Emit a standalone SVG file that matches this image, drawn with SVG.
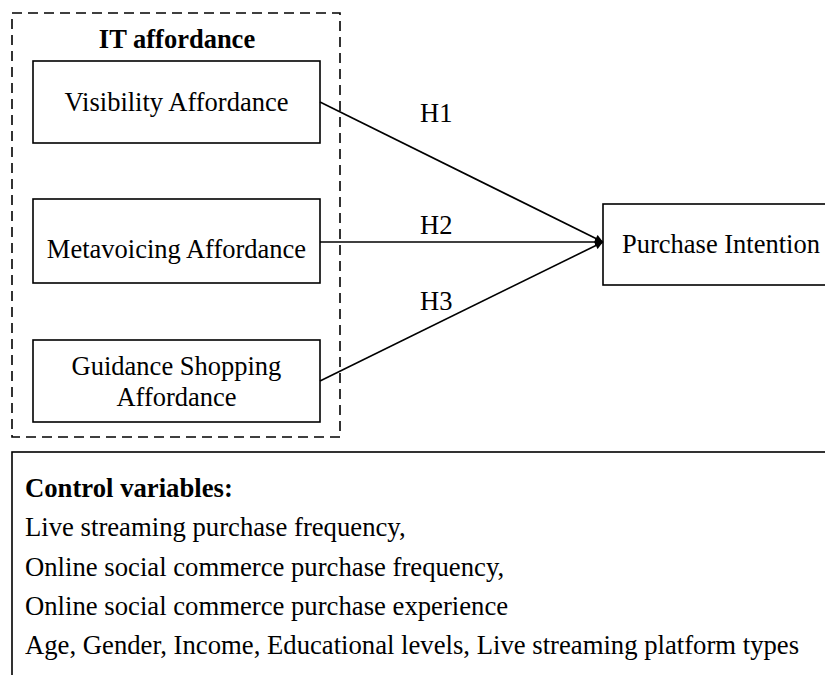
<svg xmlns="http://www.w3.org/2000/svg" width="825" height="675" viewBox="0 0 825 675">
<defs>
<style>
text{font-family:"Liberation Serif","Times New Roman",serif;font-size:26.5px;fill:#000}
.b{font-weight:bold}
.c{font-size:26.7px}
.box{fill:#fff;stroke:#000;stroke-width:1.6}
.dash{fill:none;stroke:#000;stroke-width:1.6;stroke-dasharray:10 6}
.conn{stroke:#000;stroke-width:1.6;fill:none}
</style>
<marker id="arr" viewBox="0 0 10 10" refX="10" refY="5" markerWidth="9" markerHeight="8" markerUnits="userSpaceOnUse" orient="auto">
<path d="M0,0 L10,5 L0,10 z" fill="#000"/>
</marker>
</defs>
<rect width="825" height="675" fill="#fff"/>
<g id="it-affordance">
<rect class="dash" x="12" y="13" width="328" height="424"/>
<text class="b" x="177" y="48" text-anchor="middle">IT affordance</text>
</g>
<g id="visibility">
<rect class="box" x="33" y="61" width="287" height="82"/>
<text x="176.5" y="111" text-anchor="middle">Visibility Affordance</text>
</g>
<g id="metavoicing">
<rect class="box" x="33" y="199" width="287" height="84"/>
<text x="176.5" y="258" text-anchor="middle">Metavoicing Affordance</text>
</g>
<g id="guidance">
<rect class="box" x="33" y="340" width="287" height="82"/>
<text x="176.5" y="375" text-anchor="middle">Guidance Shopping</text>
<text x="176.5" y="406" text-anchor="middle">Affordance</text>
</g>
<g id="purchase">
<rect class="box" x="603" y="204" width="240" height="81"/>
<text x="622" y="253">Purchase Intention</text>
</g>
<g id="connectors">
<line class="conn" x1="320" y1="102" x2="603" y2="242" marker-end="url(#arr)"/>
<line class="conn" x1="320" y1="242" x2="603" y2="242" marker-end="url(#arr)"/>
<line class="conn" x1="320" y1="381" x2="603" y2="242" marker-end="url(#arr)"/>
<text x="420" y="122">H1</text>
<text x="420" y="234">H2</text>
<text x="420" y="310">H3</text>
</g>
<g id="controls">
<rect class="box" x="12" y="452" width="830" height="240"/>
<text class="b c" x="25" y="497">Control variables:</text>
<text class="c" x="25" y="536">Live streaming purchase frequency,</text>
<text class="c" x="25" y="576">Online social commerce purchase frequency,</text>
<text class="c" x="25" y="615">Online social commerce purchase experience</text>
<text class="c" x="25" y="654">Age, Gender, Income, Educational levels, Live streaming platform types</text>
</g>
</svg>
